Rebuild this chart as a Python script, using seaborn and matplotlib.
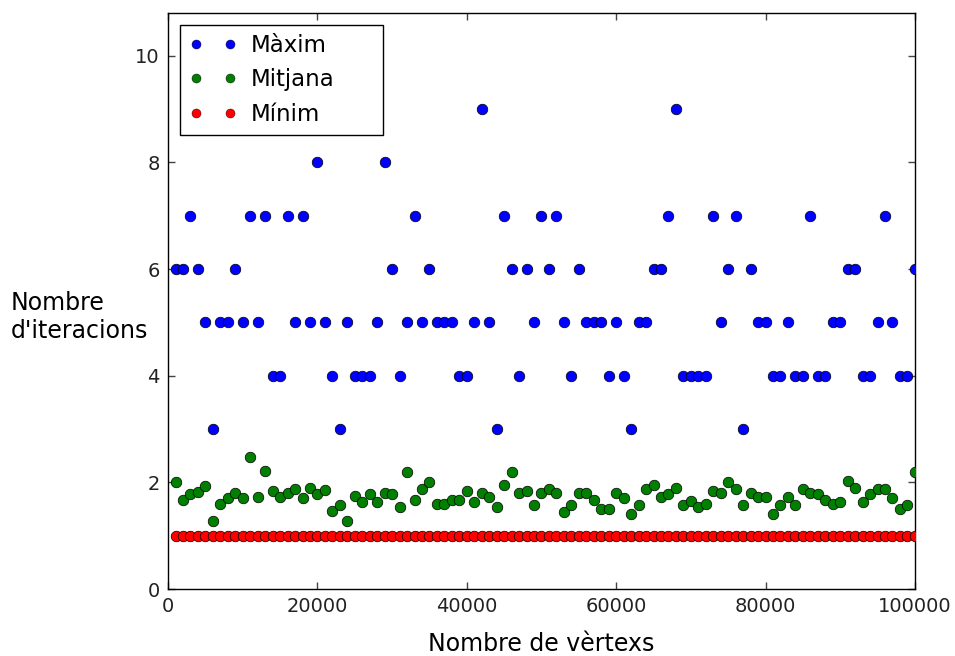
import numpy as np
import pandas as pd
import matplotlib
matplotlib.use("Agg")
import matplotlib.pyplot as plt
from matplotlib.lines import Line2D
import seaborn as sns

# nombre de vertexs (1000 .. 100000)
vertexs = list(range(1000, 100001, 1000))

maxim = [6, 6, 7, 6, 5, 3, 5, 5, 6, 5,
         7, 5, 7, 4, 4, 7, 5, 7, 5, 8,
         5, 4, 3, 5, 4, 4, 4, 5, 8, 6,
         4, 5, 7, 5, 6, 5, 5, 5, 4, 4,
         5, 9, 5, 3, 7, 6, 4, 6, 5, 7,
         6, 7, 5, 4, 6, 5, 5, 5, 4, 5,
         4, 3, 5, 5, 6, 6, 7, 9, 4, 4,
         4, 4, 7, 5, 6, 7, 3, 6, 5, 5,
         4, 4, 5, 4, 4, 7, 4, 4, 5, 5,
         6, 6, 4, 4, 5, 7, 5, 4, 4, 6]

mitjana = [2.00, 1.67, 1.78, 1.82, 1.94, 1.27, 1.60, 1.70, 1.81, 1.70,
           2.48, 1.73, 2.22, 1.83, 1.73, 1.80, 1.88, 1.71, 1.89, 1.78,
           1.86, 1.47, 1.58, 1.27, 1.74, 1.64, 1.79, 1.64, 1.81, 1.78,
           1.53, 2.20, 1.67, 1.87, 2.01, 1.59, 1.59, 1.67, 1.67, 1.83,
           1.64, 1.81, 1.73, 1.53, 1.95, 2.20, 1.80, 1.83, 1.58, 1.80,
           1.87, 1.81, 1.45, 1.58, 1.81, 1.81, 1.67, 1.51, 1.51, 1.81,
           1.70, 1.41, 1.58, 1.87, 1.96, 1.73, 1.78, 1.89, 1.58, 1.65,
           1.53, 1.60, 1.83, 1.81, 2.01, 1.87, 1.58, 1.81, 1.73, 1.72,
           1.40, 1.58, 1.73, 1.58, 1.87, 1.81, 1.78, 1.67, 1.59, 1.64,
           2.02, 1.89, 1.64, 1.78, 1.87, 1.87, 1.70, 1.51, 1.58, 2.20]

minim = [1] * 100

noms = ["Màxim", "Mitjana", "Mínim"]
colors = ["#0000ff", "#007f00", "#ff0000"]

sns.set_theme(style="white")
plt.rcParams["font.family"] = ["DejaVu Sans"]
plt.rcParams["xtick.direction"] = "in"
plt.rcParams["ytick.direction"] = "in"
plt.rcParams["text.color"] = "black"

fig = plt.figure(figsize=(9.55, 6.56), dpi=100)
ax = fig.add_axes([0.176, 0.102, 0.782, 0.878])

for nom, vals, c in zip(noms, [maxim, mitjana, minim], colors):
    df = pd.DataFrame({"x": vertexs, "y": vals})
    sns.scatterplot(data=df, x="x", y="y", color=c, s=58, edgecolor="black",
                    linewidth=0.5, ax=ax, zorder=3)

ax.set_xlim(0, 100000)
ax.set_ylim(0, 10.8)
ax.set_xticks([0, 20000, 40000, 60000, 80000, 100000])
ax.set_yticks([0, 2, 4, 6, 8, 10])
ax.tick_params(axis="both", which="major", labelsize=14, length=5, width=1,
               color="#444444", labelcolor="#222222", top=True, right=True,
               bottom=True, left=True, pad=6)
for s in ax.spines.values():
    s.set_color("black")
    s.set_linewidth(1)

ax.set_xlabel("Nombre de vèrtexs", fontsize=17, labelpad=11, color="black")
ax.set_ylabel("Nombre\nd'iteracions", fontsize=17, rotation=0, ha="center",
              va="center", multialignment="left", color="black")
ax.yaxis.set_label_coords(-0.119, 0.472)

handles = [Line2D([], [], marker="o", linestyle="none", color=c,
                  markeredgecolor="black", markeredgewidth=0.3, markersize=6.5)
           for c in colors]
leg = ax.legend(handles, noms, loc="upper left", numpoints=2, fontsize=16.5,
                frameon=True, fancybox=False, framealpha=1, borderaxespad=0.5,
                bbox_to_anchor=(0, 0, 0.303, 1), mode="expand",
                handlelength=2.1, handletextpad=0.6, labelspacing=0.5,
                borderpad=0.4)
leg.get_frame().set_edgecolor("black")
leg.get_frame().set_linewidth(1)

fig.savefig("out.png", dpi=100, facecolor="white")
